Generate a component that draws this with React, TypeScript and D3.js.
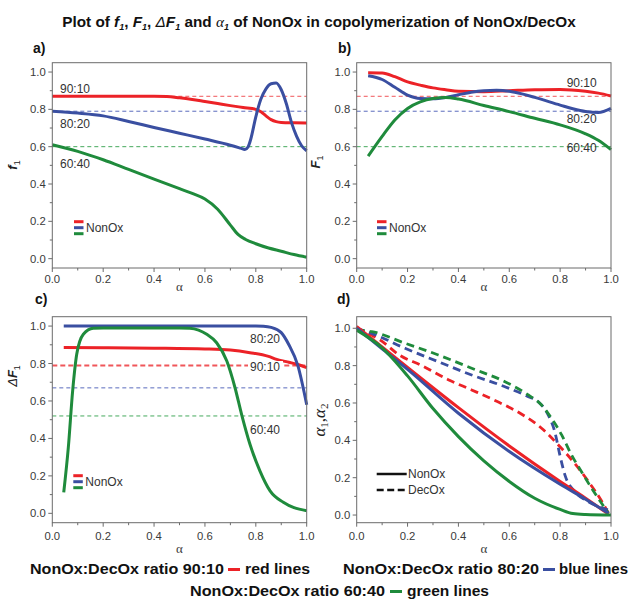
import React from 'react';
import * as d3 from 'd3';

// ---------- DATA ----------
const ratioLabels = ['90:10', '80:20', '60:40'];
const xTicks = [0, 0.2, 0.4, 0.6, 0.8, 1.0];
const xMinor = [0.1, 0.3, 0.5, 0.7, 0.9];
const yTicks = [0, 0.2, 0.4, 0.6, 0.8, 1.0];
const yMinor = [0.1, 0.3, 0.5, 0.7, 0.9];

// panel a: f1 vs alpha
const aRefValues = [0.87, 0.79, 0.6];
const aRedX = [0, 0.1, 0.2, 0.3, 0.4, 0.45, 0.5, 0.55, 0.6, 0.65, 0.7, 0.75, 0.8, 0.82, 0.84, 0.86, 0.88, 0.9, 0.95, 1.0];
const aRedY = [0.87, 0.87, 0.87, 0.87, 0.87, 0.869, 0.862, 0.853, 0.842, 0.831, 0.82, 0.81, 0.8, 0.787, 0.765, 0.745, 0.734, 0.73, 0.728, 0.727];
const aBlueX = [0, 0.1, 0.2, 0.3, 0.4, 0.5, 0.6, 0.7, 0.74, 0.757, 0.77, 0.78, 0.8, 0.82, 0.84, 0.86, 0.88, 0.9, 0.92, 0.94, 0.96, 0.98, 1.0];
const aBlueY = [0.79, 0.78, 0.765, 0.735, 0.703, 0.672, 0.641, 0.608, 0.592, 0.585, 0.6, 0.64, 0.76, 0.855, 0.91, 0.937, 0.941, 0.905, 0.83, 0.73, 0.657, 0.605, 0.578];
const aGreenX = [0, 0.1, 0.2, 0.3, 0.4, 0.5, 0.55, 0.6, 0.65, 0.7, 0.73, 0.76, 0.8, 0.85, 0.9, 0.95, 1.0];
const aGreenY = [0.61, 0.575, 0.53, 0.478, 0.426, 0.375, 0.35, 0.32, 0.265, 0.18, 0.13, 0.103, 0.08, 0.057, 0.04, 0.022, 0.008];

// panel b: F1 vs alpha
const bRefValues = [0.87, 0.79, 0.6];
const bRedX = [0.045, 0.1, 0.15, 0.2, 0.25, 0.3, 0.35, 0.4, 0.5, 0.6, 0.7, 0.8, 0.9, 0.95, 1.0];
const bRedY = [0.996, 0.995, 0.975, 0.947, 0.93, 0.915, 0.905, 0.897, 0.895, 0.9, 0.905, 0.907, 0.897, 0.887, 0.872];
const bBlueX = [0.045, 0.1, 0.15, 0.2, 0.25, 0.3, 0.35, 0.4, 0.45, 0.5, 0.55, 0.6, 0.65, 0.7, 0.8, 0.85, 0.9, 0.95, 1.0];
const bBlueY = [0.98, 0.96, 0.918, 0.876, 0.858, 0.857, 0.864, 0.878, 0.892, 0.9, 0.902, 0.897, 0.883, 0.864, 0.823, 0.803, 0.788, 0.783, 0.805];
const bGreenX = [0.045, 0.1, 0.15, 0.2, 0.25, 0.3, 0.35, 0.4, 0.5, 0.6, 0.7, 0.8, 0.9, 0.95, 1.0];
const bGreenY = [0.549, 0.655, 0.743, 0.805, 0.84, 0.858, 0.863, 0.855, 0.821, 0.788, 0.752, 0.717, 0.669, 0.634, 0.584];

// panel c: delta F1 vs alpha
const cRefValues = [0.79, 0.67, 0.52];
const cRedX = [0.045, 0.2, 0.4, 0.6, 0.7, 0.777, 0.85, 0.882, 0.92, 0.961, 1.0];
const cRedY = [0.885, 0.884, 0.882, 0.878, 0.872, 0.858, 0.838, 0.822, 0.81, 0.796, 0.778];
const cBlueX = [0.045, 0.2, 0.4, 0.6, 0.8, 0.83, 0.86, 0.9, 0.93, 0.965, 1.0];
const cBlueY = [1.0, 1.0, 1.0, 1.0, 1.0, 0.999, 0.993, 0.965, 0.9, 0.79, 0.58];
const cGreenX = [0.045, 0.063, 0.08, 0.096, 0.122, 0.161, 0.2, 0.3, 0.4, 0.5, 0.541, 0.575, 0.607, 0.646, 0.686, 0.718, 0.744, 0.777, 0.816, 0.856, 0.908, 0.95, 1.0];
const cGreenY = [0.112, 0.352, 0.654, 0.849, 0.956, 0.988, 0.99, 0.99, 0.99, 0.99, 0.988, 0.978, 0.956, 0.911, 0.813, 0.672, 0.529, 0.369, 0.227, 0.12, 0.059, 0.03, 0.014];

// panel d: alpha1 (solid, NonOx), alpha2 (dashed, DecOx)
const dRedSolidX = [0, 0.2, 0.4, 0.6, 0.8, 0.9, 0.99];
const dRedSolidY = [1.01, 0.79, 0.575, 0.37, 0.18, 0.09, 0.005];
const dBlueSolidX = [0, 0.1, 0.2, 0.4, 0.6, 0.8, 0.9, 0.99];
const dBlueSolidY = [1.0, 0.89, 0.78, 0.545, 0.34, 0.165, 0.085, 0.01];
const dGreenSolidX = [0, 0.1, 0.2, 0.3, 0.4, 0.5, 0.6, 0.7, 0.8, 0.85, 0.9, 1.0];
const dGreenSolidY = [0.99, 0.895, 0.745, 0.57, 0.42, 0.29, 0.18, 0.09, 0.03, 0.008, 0.003, 0.0];
const dRedDashX = [0, 0.1, 0.164, 0.256, 0.36, 0.452, 0.557, 0.649, 0.727, 0.793, 0.858, 0.911, 0.963, 0.99];
const dRedDashY = [1.0, 0.93, 0.86, 0.8, 0.725, 0.67, 0.605, 0.54, 0.465, 0.375, 0.275, 0.18, 0.075, 0.01];
const dBlueDashX = [0, 0.059, 0.19, 0.321, 0.452, 0.583, 0.675, 0.714, 0.753, 0.779, 0.799, 0.819, 0.858, 0.911, 0.99];
const dBlueDashY = [1.0, 0.973, 0.893, 0.821, 0.75, 0.687, 0.634, 0.607, 0.536, 0.446, 0.321, 0.214, 0.125, 0.071, 0.027];
const dGreenDashX = [0, 0.059, 0.19, 0.321, 0.452, 0.583, 0.675, 0.727, 0.766, 0.806, 0.845, 0.884, 0.924, 0.963, 0.99];
const dGreenDashY = [0.99, 0.982, 0.92, 0.857, 0.786, 0.714, 0.643, 0.589, 0.518, 0.429, 0.321, 0.232, 0.143, 0.063, 0.01];

// ---------- STYLE ----------
const RED = '#ec2227';
const BLUE = '#3a4fa1';
const GREEN = '#1f8b3c';
const REF = ['#f0565a', '#5a6bbd', '#45a95c'];
const COLORS = [RED, BLUE, GREEN];
const SANS = '"Liberation Sans", Arial, sans-serif';
const SERIF = '"Liberation Serif", "Times New Roman", serif';

type Geo = { l: number; r: number; t: number; b: number; y0: number; y1: number };
const PA: Geo = { l: 52.3, r: 306.7, t: 62.7, b: 268, y0: -0.05, y1: 1.05 };
const PB: Geo = { l: 356.7, r: 611, t: 62.7, b: 268, y0: -0.05, y1: 1.05 };
const PC: Geo = { l: 52.3, r: 306.7, t: 316.7, b: 522.7, y0: -0.05, y1: 1.05 };
const PD: Geo = { l: 356.7, r: 611, t: 316.7, b: 522.7, y0: -0.041, y1: 1.062 };

function scales(g: Geo) {
  const x = d3.scaleLinear().domain([0, 1]).range([g.l, g.r]);
  const y = d3.scaleLinear().domain([g.y0, g.y1]).range([g.b, g.t]);
  return { x, y };
}

function path(g: Geo, xs: number[], ys: number[]) {
  const { x, y } = scales(g);
  const line = d3
    .line<number>()
    .x((_, i) => x(xs[i]))
    .y((d) => y(d))
    .curve(d3.curveMonotoneX);
  return line(ys) || '';
}

function Frame({ g, tickBase, labelBase }: { g: Geo; tickBase: number; labelBase: number }) {
  const { x, y } = scales(g);
  const axisColor = '#6b6b6b';
  return (
    <g>
      <rect x={g.l} y={g.t} width={g.r - g.l} height={g.b - g.t} fill="none" stroke={axisColor} strokeWidth={1} />
      {xTicks.map((t) => (
        <line key={'xt' + t} x1={x(t)} x2={x(t)} y1={g.b} y2={g.b + 4} stroke={axisColor} />
      ))}
      {xMinor.map((t) => (
        <line key={'xm' + t} x1={x(t)} x2={x(t)} y1={g.b} y2={g.b + 2.5} stroke={axisColor} />
      ))}
      {yTicks.map((t) => (
        <line key={'yt' + t} x1={g.l - 4} x2={g.l} y1={y(t)} y2={y(t)} stroke={axisColor} />
      ))}
      {yMinor.map((t) => (
        <line key={'ym' + t} x1={g.l - 2.5} x2={g.l} y1={y(t)} y2={y(t)} stroke={axisColor} />
      ))}
      {xTicks.map((t) => (
        <text key={'xl' + t} x={x(t)} y={tickBase} textAnchor="middle" fontSize={11.3} fill="#3a3a3a" fontFamily={SANS}>
          {d3.format('.1f')(t)}
        </text>
      ))}
      {yTicks.map((t) => (
        <text key={'yl' + t} x={g.l - 6.5} y={y(t) + 4} textAnchor="end" fontSize={11.3} fill="#3a3a3a" fontFamily={SANS}>
          {d3.format('.1f')(t)}
        </text>
      ))}
      <text x={(g.l + g.r) / 2} y={labelBase} textAnchor="middle" fontSize={13} fill="#3a3a3a" fontFamily={SERIF}>
        α
      </text>
    </g>
  );
}

function RefLines({ g, values, widths }: { g: Geo; values: number[]; widths: number[] }) {
  const { x, y } = scales(g);
  return (
    <g>
      {values.map((v, i) => (
        <line
          key={i}
          x1={x(0)}
          x2={x(1)}
          y1={y(v)}
          y2={y(v)}
          stroke={REF[i]}
          strokeWidth={widths[i]}
          strokeDasharray={widths[i] > 1.2 ? '5,3' : '4,3'}
        />
      ))}
    </g>
  );
}

function Curves({ g, series, dashed }: { g: Geo; series: [number[], number[]][]; dashed?: boolean }) {
  return (
    <g>
      {series.map(([xs, ys], i) => (
        <path
          key={i}
          d={path(g, xs, ys)}
          fill="none"
          stroke={COLORS[i]}
          strokeWidth={dashed ? 2.8 : 3}
          strokeDasharray={dashed ? '8,5' : undefined}
          strokeLinecap="butt"
          strokeLinejoin="round"
        />
      ))}
    </g>
  );
}

function ColorLegend({ x0, yc }: { x0: number; yc: number }) {
  return (
    <g>
      {COLORS.map((c, i) => (
        <line key={i} x1={x0} x2={x0 + 9.5} y1={yc + (i - 1) * 6} y2={yc + (i - 1) * 6} stroke={c} strokeWidth={3} />
      ))}
      <text x={x0 + 12} y={yc + 4.3} fontSize={12} fill="#333" fontFamily={SANS}>
        NonOx
      </text>
    </g>
  );
}

function RatioLabel({ x, y, text, bg }: { x: number; y: number; text: string; bg?: boolean }) {
  return (
    <g>
      {bg && <rect x={x - 2} y={y - 10} width={35} height={12} fill="#fff" />}
      <text x={x} y={y} fontSize={12} fill="#333" fontFamily={SANS}>
        {text}
      </text>
    </g>
  );
}

function YLabel({ x, y, children }: { x: number; y: number; children: React.ReactNode }) {
  return (
    <text transform={`translate(${x},${y}) rotate(-90)`} textAnchor="middle" fontSize={13} fill="#222" fontFamily={SANS}>
      {children}
    </text>
  );
}

function PanelTag({ x, y, t }: { x: number; y: number; t: string }) {
  return (
    <text x={x} y={y} fontSize={14} fontWeight="bold" fill="#111" fontFamily={SANS}>
      {t}
    </text>
  );
}

function LegendRow({
  x, y, ratio, color, word, w1, w2, dashX, wordX,
}: {
  x: number; y: number; ratio: string; color: string; word: string; w1: number; w2: number; dashX: number; wordX: number;
}) {
  const first = `NonOx:DecOx ratio ${ratio}`;
  return (
    <g fontFamily={SANS} fontWeight="bold" fontSize={15} fill="#111">
      <text x={x} y={y} textLength={w1} lengthAdjust="spacingAndGlyphs">{first}</text>
      <line x1={dashX} x2={dashX + 12} y1={y - 4.5} y2={y - 4.5} stroke={color} strokeWidth={3} />
      <text x={wordX} y={y} textLength={w2} lengthAdjust="spacingAndGlyphs">{word}</text>
    </g>
  );
}

export default function App() {
  const sub = { fontSize: 9, dy: 3 } as const;
  return (
    <svg
      width={630}
      height={600}
      viewBox="0 0 630 600"
      style={{ position: 'absolute', left: 0, top: 0, background: '#fff' }}
    >
      <rect x={0} y={0} width={630} height={600} fill="#fff" />
      {/* Title */}
      <text x={319} y={27} textAnchor="middle" fontSize={15.3} fontWeight="bold" fill="#111" fontFamily={SANS}>
        <tspan>Plot of </tspan>
        <tspan fontStyle="italic">f</tspan>
        <tspan fontStyle="italic" fontSize={9} dy={3}>1</tspan>
        <tspan dy={-3}>, </tspan>
        <tspan fontStyle="italic">F</tspan>
        <tspan fontStyle="italic" fontSize={9} dy={3}>1</tspan>
        <tspan dy={-3}>, </tspan>
        <tspan fontStyle="italic" fontWeight="normal">Δ</tspan>
        <tspan fontStyle="italic">F</tspan>
        <tspan fontStyle="italic" fontSize={9} dy={3}>1</tspan>
        <tspan dy={-3}> and </tspan>
        <tspan fontStyle="italic" fontWeight="normal" fontFamily={SERIF}>α</tspan>
        <tspan fontStyle="italic" fontSize={9} dy={3}>1</tspan>
        <tspan dy={-3}> of NonOx in copolymerization of NonOx/DecOx</tspan>
      </text>

      <PanelTag x={33} y={53} t="a)" />
      <PanelTag x={338} y={53} t="b)" />
      <PanelTag x={35} y={304} t="c)" />
      <PanelTag x={337} y={304} t="d)" />

      {/* Panel a */}
      <RefLines g={PA} values={aRefValues} widths={[1, 1, 1]} />
      <Curves g={PA} series={[[aRedX, aRedY], [aBlueX, aBlueY], [aGreenX, aGreenY]]} />
      <Frame g={PA} tickBase={283} labelBase={291} />
      <RatioLabel x={60} y={93} text={ratioLabels[0]} />
      <RatioLabel x={60} y={128} text={ratioLabels[1]} />
      <RatioLabel x={60} y={168} text={ratioLabels[2]} />
      <ColorLegend x0={74} yc={227.7} />
      <YLabel x={17} y={165}>
        <tspan fontStyle="italic" fontWeight="bold">f</tspan>
        <tspan {...sub}>1</tspan>
      </YLabel>

      {/* Panel b */}
      <RefLines g={PB} values={bRefValues} widths={[1, 1, 1]} />
      <Curves g={PB} series={[[bRedX, bRedY], [bBlueX, bBlueY], [bGreenX, bGreenY]]} />
      <Frame g={PB} tickBase={283} labelBase={291} />
      <RatioLabel x={566.7} y={87} text={ratioLabels[0]} />
      <RatioLabel x={566.7} y={123} text={ratioLabels[1]} />
      <RatioLabel x={566.7} y={152} text={ratioLabels[2]} />
      <ColorLegend x0={377} yc={227.7} />
      <YLabel x={320} y={162}>
        <tspan fontStyle="italic" fontWeight="bold">F</tspan>
        <tspan {...sub}>1</tspan>
      </YLabel>

      {/* Panel c */}
      <RefLines g={PC} values={cRefValues} widths={[2, 1, 1]} />
      <Curves g={PC} series={[[cRedX, cRedY], [cBlueX, cBlueY], [cGreenX, cGreenY]]} />
      <Frame g={PC} tickBase={540} labelBase={553} />
      <RatioLabel x={250} y={343} text={ratioLabels[1]} />
      <RatioLabel x={250} y={371} text={ratioLabels[0]} bg />
      <RatioLabel x={250} y={434} text={ratioLabels[2]} />
      <ColorLegend x0={73.3} yc={481.7} />
      <YLabel x={17} y={376}>
        <tspan fontStyle="italic">Δ</tspan>
        <tspan fontStyle="italic" fontWeight="bold">F</tspan>
        <tspan {...sub}>1</tspan>
      </YLabel>

      {/* Panel d */}
      <Curves g={PD} series={[[dRedDashX, dRedDashY], [dBlueDashX, dBlueDashY], [dGreenDashX, dGreenDashY]]} dashed />
      <Curves g={PD} series={[[dRedSolidX, dRedSolidY], [dBlueSolidX, dBlueSolidY], [dGreenSolidX, dGreenSolidY]]} />
      <Frame g={PD} tickBase={540} labelBase={553} />
      <line x1={376.7} x2={406.7} y1={474} y2={474} stroke="#111" strokeWidth={2.5} />
      <text x={408} y={478.3} fontSize={12} fill="#333" fontFamily={SANS}>NonOx</text>
      <line x1={376.7} x2={406.7} y1={490} y2={490} stroke="#111" strokeWidth={2.5} strokeDasharray="7,3.5" />
      <text x={408} y={494.3} fontSize={12} fill="#333" fontFamily={SANS}>DecOx</text>
      <text transform="translate(325,420) rotate(-90)" textAnchor="middle" fontSize={17} fill="#222" fontFamily={SERIF}>
        <tspan fontStyle="italic">α</tspan>
        <tspan fontSize={11} dy={3}>1</tspan>
        <tspan dy={-3}>,</tspan>
        <tspan fontStyle="italic">α</tspan>
        <tspan fontSize={11} dy={3}>2</tspan>
      </text>

      {/* bottom legend */}
      <LegendRow x={30} y={574} ratio="90:10" color={RED} word="red lines" w1={194} w2={65} dashX={228} wordX={245} />
      <LegendRow x={343} y={574} ratio="80:20" color={BLUE} word="blue lines" w1={196} w2={69} dashX={543} wordX={559} />
      <LegendRow x={190} y={596} ratio="60:40" color={GREEN} word="green lines" w1={195} w2={82} dashX={390} wordX={407} />
    </svg>
  );
}
